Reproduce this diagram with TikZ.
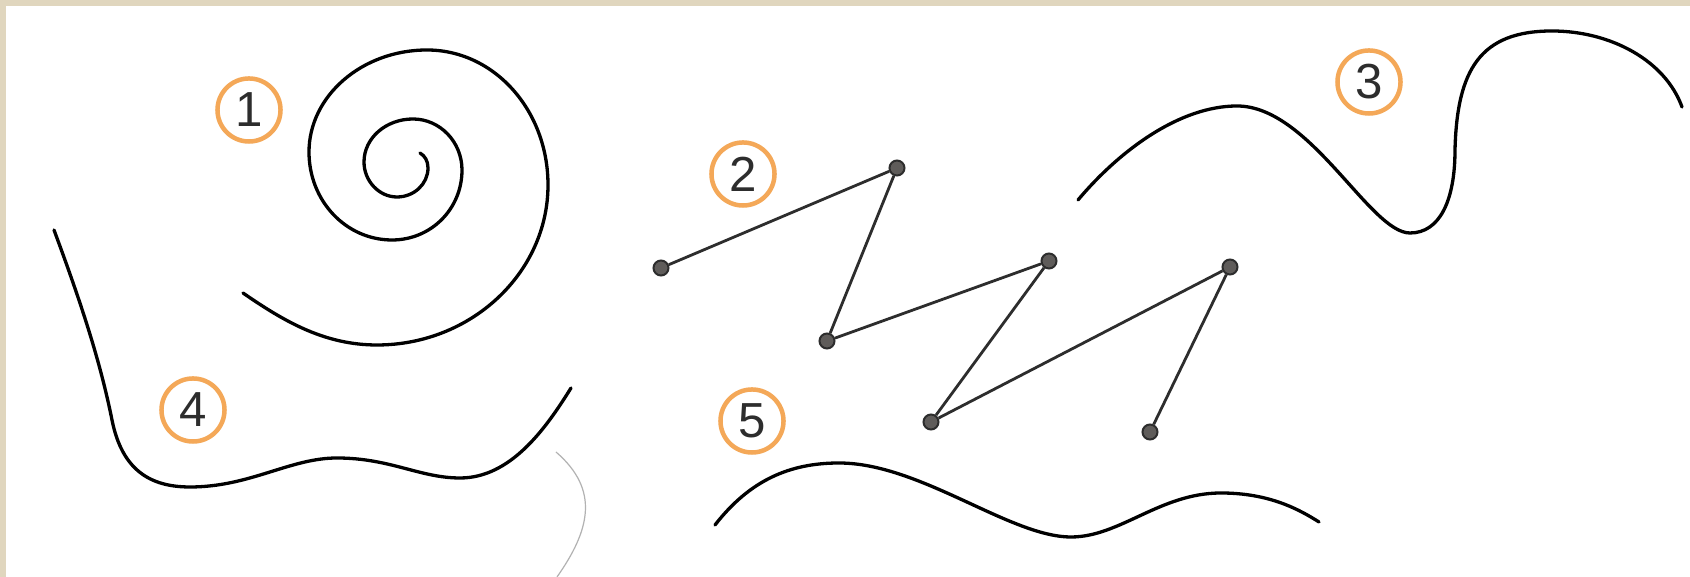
\documentclass[tikz,border=0pt]{standalone}
\usepackage{fontspec}
\newfontfamily\numfont{Liberation Sans}
\usepackage{tikz}
\usetikzlibrary{calc,positioning}

\definecolor{numring}{RGB}{244,168,88}
\definecolor{numtext}{RGB}{45,45,45}
\definecolor{dotgray}{RGB}{95,92,90}
\definecolor{linegray}{RGB}{45,45,45}
\definecolor{paper}{RGB}{224,214,190}

\begin{document}
\begin{tikzpicture}[
  x=0.01cm, y=-0.01cm,
  num/.style={draw=numring, line width=0.45mm, circle, minimum size=6.3mm, inner sep=0pt, font=\numfont\fontsize{14}{14}\selectfont, text=numtext},
  dot/.style={circle, fill=dotgray, draw=linegray, line width=0.2mm, minimum size=1.5mm, inner sep=0pt},
  zig/.style={draw=linegray, line width=0.28mm},
  curve/.style={line width=0.33mm, line cap=round},
]
\useasboundingbox (0,0) rectangle (1690,577);
\fill[white] (0,0) rectangle (1690,577);
\fill[paper] (0,0) rectangle (1690,6);
\fill[paper] (0,0) rectangle (6,577);
% Labels
\node[num] (one) at (249, 110) {1};
\node[num] (two) at (743, 174) {2};
\node[num] (three) at (1369, 82) {3};
\node[num] (four) at (193, 410) {4};
\node[num] (five) at (752, 421) {5};
% 1: spiral
\draw[curve] (243,293) .. controls (285,322) and (325,345) .. (377,345)
  .. controls (471,345) and (548,273) .. (548,185)
  .. controls (548,110) and (494,50) .. (427,50)
  .. controls (362,50) and (309,96) .. (309,152)
  .. controls (309,201) and (346,240) .. (392,240)
  .. controls (431,240) and (462,209) .. (462,170)
  .. controls (462,142) and (440,119) .. (413,119)
  .. controls (386,119) and (364,138) .. (364,162)
  .. controls (364,181) and (379,197) .. (397,197)
  .. controls (414,197) and (428,184) .. (428,168)
  .. controls (428,161) and (425,156) .. (420,153);
% 2: broken line
\node[dot] (pa) at (661, 268) {};
\node[dot] (pb) at (897, 168) {};
\node[dot] (pc) at (827, 341) {};
\node[dot] (pd) at (1049, 261) {};
\node[dot] (pe) at (931, 422) {};
\node[dot] (pf) at (1230, 267) {};
\node[dot] (pg) at (1150, 432) {};
\draw[zig] (pa) -- (pb) -- (pc) -- (pd) -- (pe) -- (pf) -- (pg);
% 3
\draw[curve] (1078,200) .. controls (1120,150) and (1180,106) .. (1237,106)
  .. controls (1310,106) and (1370,233) .. (1410,233)
  .. controls (1440,233) and (1455,200) .. (1455,150)
  .. controls (1457,70) and (1480,31) .. (1552,31)
  .. controls (1610,31) and (1665,60) .. (1682,107);
% 4
\draw[curve] (54,230) .. controls (80,300) and (100,360) .. (112,420)
  .. controls (122,470) and (150,487) .. (190,487)
  .. controls (250,487) and (290,458) .. (337,458)
  .. controls (390,458) and (420,478) .. (460,478)
  .. controls (510,478) and (545,430) .. (571,388);
% 5
\draw[curve] (715,525) .. controls (750,480) and (790,463) .. (839,463)
  .. controls (920,463) and (1010,537) .. (1071,537)
  .. controls (1120,537) and (1160,493) .. (1221,493)
  .. controls (1270,493) and (1300,510) .. (1319,522);
% pencil trace
\draw[gray!60, line width=0.12mm] (556,452) .. controls (600,490) and (590,530) .. (557,577);
\end{tikzpicture}
\end{document}
